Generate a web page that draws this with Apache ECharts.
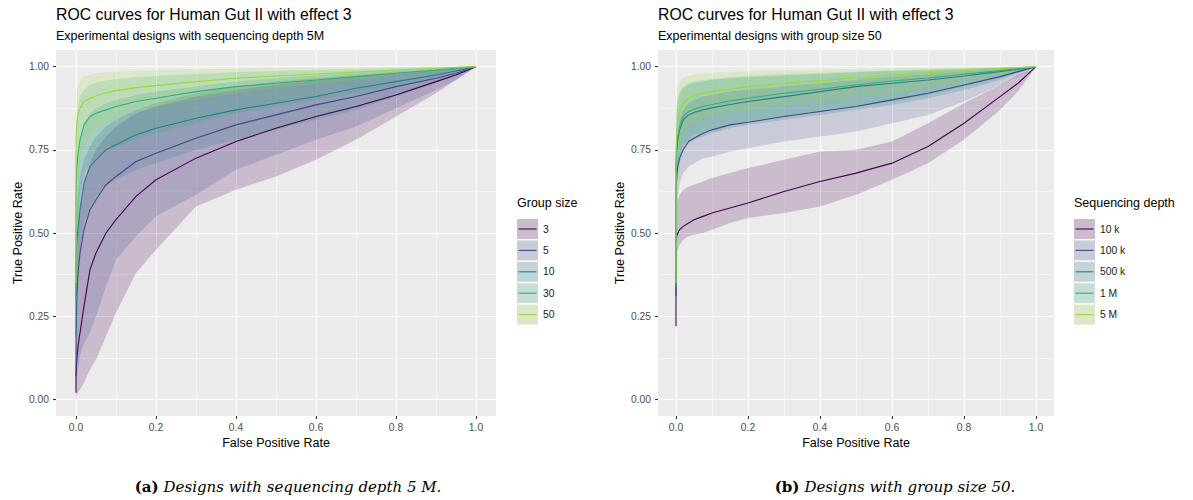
<!DOCTYPE html>
<html><head><meta charset="utf-8">
<script src="https://cdn.jsdelivr.net/npm/echarts@6.0.0/dist/echarts.min.js"></script>
<style>html,body{margin:0;padding:0;background:#fff}#c{width:1193px;height:500px}</style>
</head><body><div id="c"></div><script>
// ---------- data ----------
const fpr = [0, 0.002, 0.005, 0.01, 0.02, 0.035, 0.05, 0.075, 0.1, 0.15, 0.2, 0.3, 0.4, 0.5, 0.6, 0.7, 0.8, 0.9, 0.95, 1];
const xTicks = [0, 0.2, 0.4, 0.6, 0.8, 1.0];
const xMinor = [0.1, 0.3, 0.5, 0.7, 0.9];
const yTicks = [0, 0.25, 0.5, 0.75, 1];
const yMinor = [0.125, 0.375, 0.625, 0.875];
const colors = ['#440154', '#3F4A8A', '#287E8E', '#2EB17D', '#9AD93C'];

// Panel (a): group sizes, depth 5M
const groupSizes = ['3', '5', '10', '30', '50'];
const aStart = [0.02, 0.07, 0.19, 0.30, 0.35];
const g3Mean  = [0.08,0.12,0.16,0.20,0.28,0.39,0.44,0.50,0.54,0.61,0.66,0.725,0.775,0.815,0.85,0.88,0.915,0.955,0.975,1];
const g3Lower = [0,0.01,0.02,0.03,0.05,0.09,0.12,0.19,0.26,0.38,0.45,0.58,0.63,0.67,0.72,0.78,0.85,0.92,0.96,1];
const g3Upper = [0.30,0.40,0.50,0.58,0.65,0.71,0.75,0.79,0.82,0.86,0.88,0.91,0.93,0.945,0.96,0.97,0.98,0.99,0.995,1];
const g5Mean  = [0.18,0.30,0.38,0.44,0.51,0.57,0.60,0.645,0.67,0.715,0.74,0.785,0.825,0.855,0.885,0.91,0.94,0.965,0.98,1];
const g5Lower = [0.03,0.06,0.09,0.13,0.17,0.20,0.25,0.34,0.42,0.49,0.55,0.615,0.69,0.735,0.78,0.82,0.875,0.93,0.96,1];
const g5Upper = [0.45,0.55,0.62,0.67,0.72,0.76,0.79,0.82,0.84,0.87,0.89,0.92,0.94,0.955,0.965,0.975,0.985,0.99,0.995,1];
const g10Mean  = [0.43,0.47,0.51,0.57,0.65,0.70,0.72,0.75,0.765,0.795,0.815,0.845,0.87,0.89,0.91,0.935,0.955,0.975,0.987,1];
const g10Lower = [0.20,0.30,0.38,0.45,0.53,0.58,0.61,0.64,0.66,0.69,0.71,0.75,0.78,0.81,0.84,0.87,0.91,0.95,0.975,1];
const g10Upper = [0.62,0.68,0.73,0.78,0.83,0.86,0.875,0.89,0.90,0.915,0.925,0.94,0.955,0.965,0.975,0.983,0.99,0.995,0.998,1];
const g30Mean  = [0.62,0.70,0.74,0.78,0.825,0.85,0.86,0.87,0.88,0.895,0.905,0.925,0.94,0.95,0.96,0.97,0.98,0.99,0.995,1];
const g30Lower = [0.40,0.48,0.55,0.62,0.68,0.71,0.73,0.75,0.76,0.78,0.80,0.83,0.86,0.88,0.90,0.92,0.945,0.97,0.985,1];
const g30Upper = [0.78,0.85,0.88,0.91,0.93,0.945,0.952,0.958,0.962,0.968,0.972,0.978,0.983,0.987,0.99,0.993,0.996,0.998,0.999,1];
const g50Mean  = [0.78,0.83,0.855,0.875,0.895,0.905,0.912,0.922,0.928,0.937,0.943,0.955,0.965,0.972,0.978,0.984,0.99,0.995,0.998,1];
const g50Lower = [0.50,0.58,0.65,0.71,0.76,0.79,0.81,0.83,0.845,0.865,0.88,0.90,0.92,0.935,0.95,0.96,0.975,0.99,0.995,1];
const g50Upper = [0.88,0.92,0.945,0.96,0.97,0.975,0.98,0.983,0.985,0.988,0.99,0.992,0.994,0.996,0.997,0.998,0.999,1,1,1];

// Panel (b): sequencing depths, group size 50
const depths = ['10 k', '100 k', '500 k', '1 M', '5 M'];
const bStart = [0.22, 0.31, 0.34, 0.34, 0.35];
const d10kMean  = [0.48,0.49,0.50,0.51,0.52,0.53,0.54,0.55,0.56,0.575,0.59,0.625,0.655,0.68,0.71,0.76,0.83,0.91,0.95,1];
const d10kLower = [0.43,0.44,0.45,0.465,0.48,0.49,0.495,0.50,0.51,0.53,0.545,0.56,0.58,0.615,0.66,0.71,0.78,0.87,0.925,1];
const d10kUpper = [0.56,0.58,0.60,0.615,0.63,0.64,0.645,0.655,0.665,0.68,0.695,0.72,0.745,0.75,0.775,0.83,0.89,0.945,0.975,1];
const d100kMean  = [0.62,0.67,0.70,0.725,0.75,0.775,0.785,0.80,0.81,0.825,0.833,0.85,0.865,0.88,0.90,0.92,0.945,0.97,0.985,1];
const d100kLower = [0.52,0.57,0.61,0.65,0.68,0.70,0.71,0.725,0.73,0.745,0.755,0.775,0.79,0.805,0.83,0.855,0.895,0.945,0.97,1];
const d100kUpper = [0.72,0.77,0.81,0.84,0.87,0.89,0.90,0.91,0.915,0.925,0.93,0.94,0.95,0.96,0.97,0.978,0.986,0.993,0.997,1];
const d500kMean  = [0.70,0.75,0.78,0.81,0.84,0.855,0.862,0.87,0.876,0.886,0.895,0.91,0.925,0.94,0.95,0.96,0.972,0.985,0.992,1];
const d500kLower = [0.58,0.63,0.67,0.71,0.75,0.77,0.78,0.79,0.80,0.815,0.825,0.84,0.855,0.87,0.885,0.905,0.93,0.96,0.98,1];
const d500kUpper = [0.82,0.86,0.89,0.915,0.935,0.945,0.95,0.955,0.96,0.965,0.968,0.973,0.978,0.983,0.987,0.99,0.994,0.997,0.999,1];
const d1MMean  = [0.71,0.76,0.79,0.82,0.85,0.865,0.872,0.88,0.886,0.897,0.905,0.92,0.932,0.945,0.957,0.966,0.977,0.988,0.994,1];
const d1MLower = [0.60,0.65,0.69,0.73,0.765,0.785,0.795,0.805,0.81,0.825,0.835,0.85,0.865,0.88,0.895,0.915,0.94,0.965,0.982,1];
const d1MUpper = [0.84,0.88,0.905,0.925,0.94,0.95,0.955,0.96,0.963,0.968,0.972,0.977,0.981,0.985,0.989,0.992,0.995,0.998,0.999,1];
const d5MMean  = [0.75,0.80,0.83,0.86,0.89,0.905,0.912,0.92,0.925,0.933,0.94,0.95,0.958,0.966,0.975,0.982,0.988,0.994,0.997,1];
const d5MLower = [0.62,0.68,0.72,0.76,0.80,0.82,0.83,0.84,0.85,0.86,0.87,0.885,0.895,0.91,0.92,0.935,0.955,0.975,0.988,1];
const d5MUpper = [0.88,0.92,0.94,0.955,0.965,0.972,0.976,0.979,0.981,0.984,0.986,0.989,0.991,0.993,0.995,0.997,0.998,0.999,1,1];

// ---------- helpers ----------
const FONT = 'Liberation Sans';
function hexRgb(h){ return [parseInt(h.slice(1,3),16),parseInt(h.slice(3,5),16),parseInt(h.slice(5,7),16)]; }
function rgba(h,a){ const c=hexRgb(h); return 'rgba('+c.join(',')+','+a+')'; }
function blend(h,a,bg){ const c=hexRgb(h); return 'rgb('+c.map(v=>Math.round(bg*(1-a)+v*a)).join(',')+')'; }

function bandRender(lo, hi, fill){
  return function(params, api){
    const pts = [];
    for (let i = 0; i < fpr.length; i++) pts.push(api.coord([fpr[i], hi[i]]));
    for (let i = fpr.length - 1; i >= 0; i--) pts.push(api.coord([fpr[i], lo[i]]));
    return {type:'polygon', shape:{points:pts}, style:{fill: fill, stroke: null}};
  };
}
function panelSeries(pi, names, starts, means, lowers, uppers){
  const s = [];
  names.forEach((n,i)=>{
    s.push({type:'custom', name:n, xAxisIndex:pi, yAxisIndex:pi, z:2, silent:true,
      itemStyle:{color: rgba(colors[i],0.2)}, data:[[0.5,0.5]], renderItem: bandRender(lowers[i], uppers[i], rgba(colors[i],0.2))});
  });
  names.forEach((n,i)=>{
    const d = [[0, starts[i]]].concat(fpr.map((x,j)=>[x, means[i][j]]));
    s.push({type:'line', name:n, xAxisIndex:pi, yAxisIndex:pi, z:3, silent:true, showSymbol:false, symbol:'none',
      data:d, lineStyle:{color:colors[i], width:1.1}, itemStyle:{color:colors[i]}});
  });
  return s;
}
function xAxis(gi){
  return {type:'value', gridIndex:gi, min:-0.05, max:1.05, position:'bottom',
    name:'False Positive Rate', nameLocation:'middle', nameGap:20,
    nameTextStyle:{fontSize:12.5, color:'#000', fontFamily:FONT},
    axisLine:{show:false, onZero:false},
    splitLine:{show:true, lineStyle:{color:'#ffffff', width:1.1}},
    axisTick:{show:true, length:3, customValues:xTicks, lineStyle:{color:'#333', width:1.1}},
    axisLabel:{customValues:xTicks, margin:6, fontSize:10.3, color:'#4D4D4D', fontFamily:FONT, formatter:v=>v.toFixed(1)}};
}
function xMinorAxis(gi){
  return {type:'value', gridIndex:gi, min:-0.05, max:1.05, position:'top', silent:true,
    axisLine:{show:false, onZero:false}, axisLabel:{show:false, customValues:xMinor},
    axisTick:{show:false, customValues:xMinor},
    splitLine:{show:true, lineStyle:{color:'#ffffff', width:0.55}}};
}
function yAxis(gi){
  return {type:'value', gridIndex:gi, min:-0.05, max:1.05, position:'left',
    name:'True Positive Rate', nameLocation:'middle', nameGap:32,
    nameTextStyle:{fontSize:12.5, color:'#000', fontFamily:FONT},
    axisLine:{show:false, onZero:false},
    splitLine:{show:true, lineStyle:{color:'#ffffff', width:1.1}},
    axisTick:{show:true, length:3, customValues:yTicks, lineStyle:{color:'#333', width:1.1}},
    axisLabel:{customValues:yTicks, margin:7, fontSize:10.3, color:'#4D4D4D', fontFamily:FONT, formatter:v=>v.toFixed(2)}};
}
function yMinorAxis(gi){
  return {type:'value', gridIndex:gi, min:-0.05, max:1.05, position:'right', silent:true,
    axisLine:{show:false, onZero:false}, axisLabel:{show:false, customValues:yMinor},
    axisTick:{show:false, customValues:yMinor},
    splitLine:{show:true, lineStyle:{color:'#ffffff', width:0.55}}};
}
const LEG_TOP = 219, LEG_STEP = 21.4;
function legend(left, names){
  return {orient:'vertical', left:left, top:LEG_TOP, padding:0, itemWidth:21, itemHeight:20, itemGap:LEG_STEP-20,
    selectedMode:false, textStyle:{fontSize:10.3, color:'#1A1A1A', fontFamily:FONT},
    data: names.map((n,i)=>({name:n, icon:'rect', itemStyle:{color: blend(colors[i],0.2,235), borderWidth:0}}))};
}
function legendLines(left){
  return colors.map((c,i)=>({type:'line', z:100, silent:true,
    shape:{x1:left+1.5, y1:LEG_TOP+i*LEG_STEP+10, x2:left+19.5, y2:LEG_TOP+i*LEG_STEP+10},
    style:{stroke:c, lineWidth:1.1}}));
}
function txt(text, left, top, size){
  return {text:text, left:left, top:top, padding:0, textStyle:{fontSize:size, fontWeight:'normal', color:'#000', fontFamily:FONT}};
}
function caption(label, text, cx){
  return {text:'{b|'+label+'} {i|'+text+'}', left:cx, top:478, padding:0, textAlign:'center',
    textStyle:{rich:{b:{fontSize:15, fontWeight:'bold', fontFamily:'DejaVu Serif', color:'#000'},
                     i:{fontSize:15, fontWeight:'normal', fontStyle:'italic', fontFamily:'DejaVu Serif', color:'#000'}}}};
}

const G = [
  {left:56, top:50, width:440, height:366},
  {left:658, top:50, width:396, height:366}
];

const option = {
  animation:false,
  textStyle:{fontFamily:FONT},
  title:[
    txt('ROC curves for Human Gut II with effect 3', 56, 6, 15.8),
    txt('Experimental designs with sequencing depth 5M', 56, 29, 12.5),
    txt('ROC curves for Human Gut II with effect 3', 658, 6, 15.8),
    txt('Experimental designs with group size 50', 658, 29, 12.5),
    txt('Group size', 517, 196, 12.5),
    txt('Sequencing depth', 1074, 196, 12.5),
    caption('(a)', 'Designs with sequencing depth 5 M.', 288),
    caption('(b)', 'Designs with group size 50.', 895)
  ],
  grid: G.map(g=>Object.assign({show:true, backgroundColor:'#EBEBEB', borderWidth:0, containLabel:false}, g)),
  // axes 0,1 = labelled major axes; 2,3 = minor-gridline axes
  xAxis:[xAxis(0), xAxis(1), xMinorAxis(0), xMinorAxis(1)],
  yAxis:[yAxis(0), yAxis(1), yMinorAxis(0), yMinorAxis(1)],
  legend:[legend(517, groupSizes), legend(1074, depths)],
  graphic: legendLines(517).concat(legendLines(1074)),
  series: panelSeries(0, groupSizes, aStart,
            [g3Mean,g5Mean,g10Mean,g30Mean,g50Mean],
            [g3Lower,g5Lower,g10Lower,g30Lower,g50Lower],
            [g3Upper,g5Upper,g10Upper,g30Upper,g50Upper])
    .concat(panelSeries(1, depths, bStart,
            [d10kMean,d100kMean,d500kMean,d1MMean,d5MMean],
            [d10kLower,d100kLower,d500kLower,d1MLower,d5MLower],
            [d10kUpper,d100kUpper,d500kUpper,d1MUpper,d5MUpper]))
};
const chart = echarts.init(document.getElementById('c'), null, {renderer:'svg'});
chart.setOption(option);
</script></body></html>
